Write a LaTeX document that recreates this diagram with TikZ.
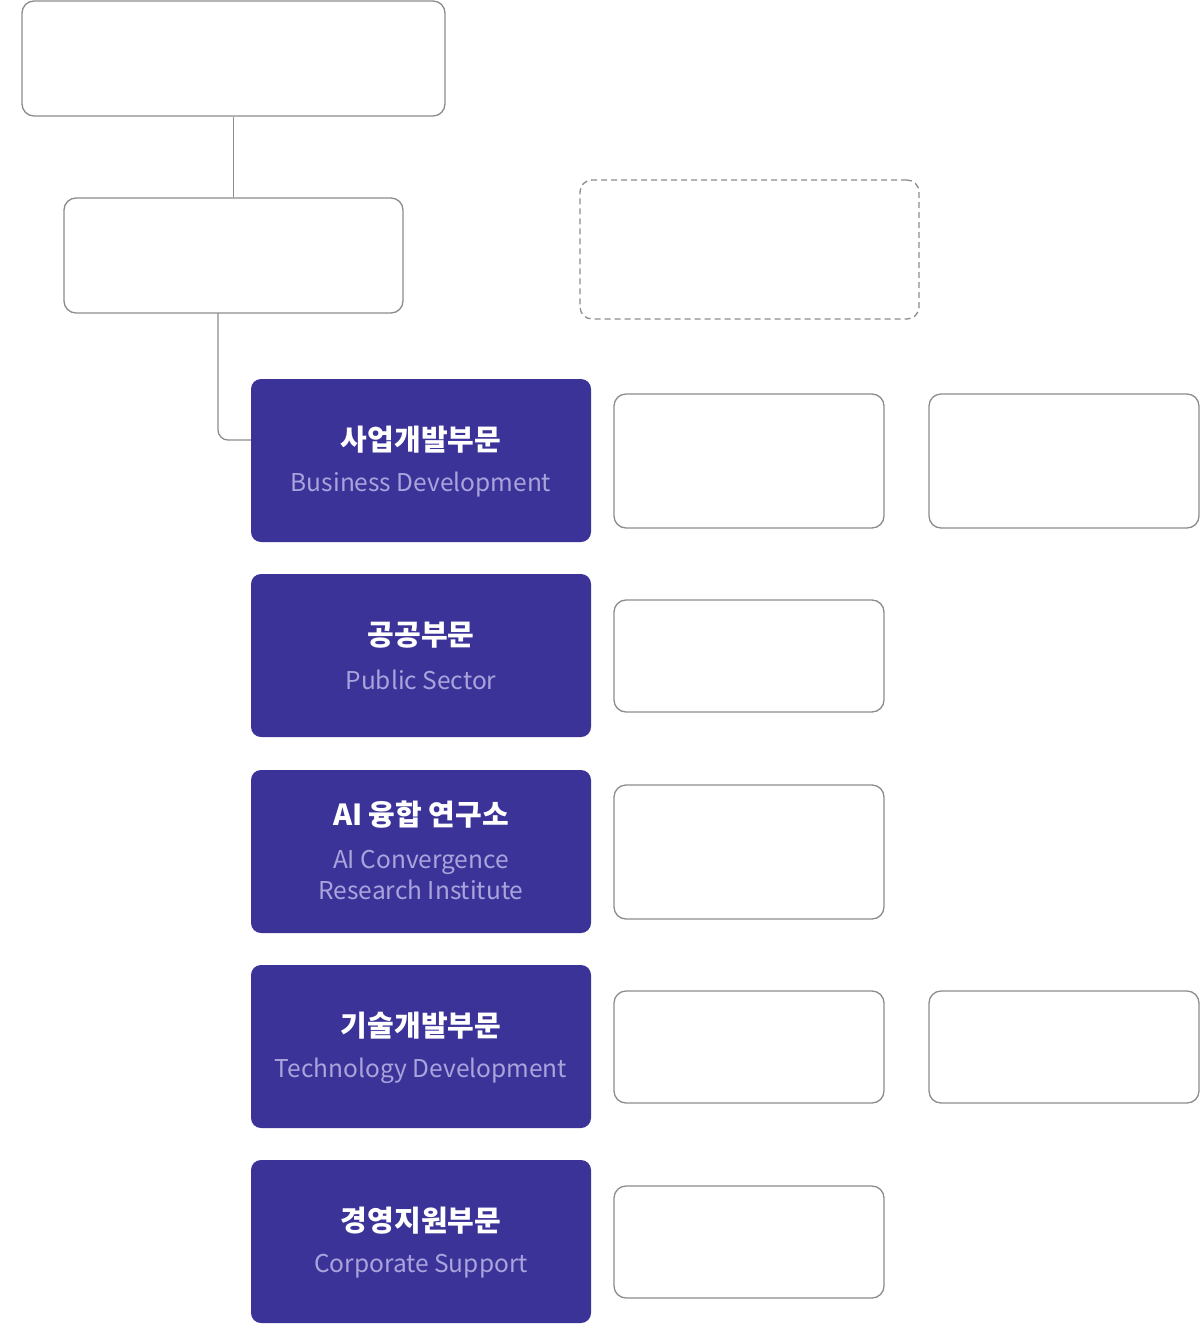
\documentclass[tikz,border=0pt]{standalone}
\usepackage{fontspec}
\setmainfont{Noto Sans CJK KR}
\definecolor{pur}{HTML}{3C3399}
\definecolor{lav}{HTML}{A9A4DC}
\definecolor{bord}{HTML}{8C8C8C}
\tikzset{
  wbox/.style={draw=bord, line width=1.3pt, rounded corners=12pt, fill=white, inner sep=0pt},
  dbox/.style={draw=bord, line width=1.3pt, rounded corners=12pt, dash pattern=on 6pt off 4pt, inner sep=0pt},
  pbox/.style={fill=pur, rounded corners=10pt, inner sep=0pt, minimum width=340pt, minimum height=163pt},
  conn/.style={draw=bord, line width=1.3pt},
  kt/.style={text=white, font=\fontsize{29}{32}\selectfont\bfseries},
  et/.style={text=lav, font=\fontsize{24.5}{31}\selectfont, align=center},
}
\begin{document}
\begin{tikzpicture}[x=1pt,y=-1pt]
\useasboundingbox (0,0) rectangle (1200,1324);
% top boxes
\node[wbox, minimum width=423pt, minimum height=115pt] (chair) at (233.5,58.5) {};
\node[wbox, minimum width=339pt, minimum height=115pt] (ceo) at (233.5,255.5) {};
\node[dbox, minimum width=339pt, minimum height=139pt] (aud) at (749.5,249.5) {};
\coordinate (ceob) at (218,313);
% purple boxes
\node[pbox] (p1) at (421,460.5) {};
\node[pbox] (p2) at (421,655.5) {};
\node[pbox] (p3) at (421,851.5) {};
\node[pbox] (p4) at (421,1046.5) {};
\node[pbox] (p5) at (421,1241.5) {};
\coordinate (p1w) at (251,440);
\node[kt] (k1) at (421,440) {사업개발부문};
\node[et] (e1) at (421,485) {Business Development};
\node[kt] (k2) at (421,635) {공공부문};
\node[et] (e2) at (421,680) {Public Sector};
\node[kt] (k3) at (421,815) {AI 융합 연구소};
\node[et] (e3) at (421,875) {AI Convergence\\Research Institute};
\node[kt] (k4) at (421,1026) {기술개발부문};
\node[et] (e4) at (421,1071) {Technology Development};
\node[kt] (k5) at (421,1221) {경영지원부문};
\node[et] (e5) at (421,1266) {Corporate Support};
% right white boxes
\node[wbox, minimum width=270pt, minimum height=134pt] (r1a) at (749,461) {};
\node[wbox, minimum width=270pt, minimum height=134pt] (r1b) at (1064,461) {};
\node[wbox, minimum width=270pt, minimum height=112pt] (r2a) at (749,656) {};
\node[wbox, minimum width=270pt, minimum height=134pt] (r3a) at (749,852) {};
\node[wbox, minimum width=270pt, minimum height=112pt] (r4a) at (749,1047) {};
\node[wbox, minimum width=270pt, minimum height=112pt] (r4b) at (1064,1047) {};
\node[wbox, minimum width=270pt, minimum height=112pt] (r5a) at (749,1242) {};
% connectors
\draw[conn] (chair.south) -- (ceo.north);
\draw[conn, rounded corners=10pt] (ceob) |- (p1.west |- p1w);
\end{tikzpicture}
\end{document}
